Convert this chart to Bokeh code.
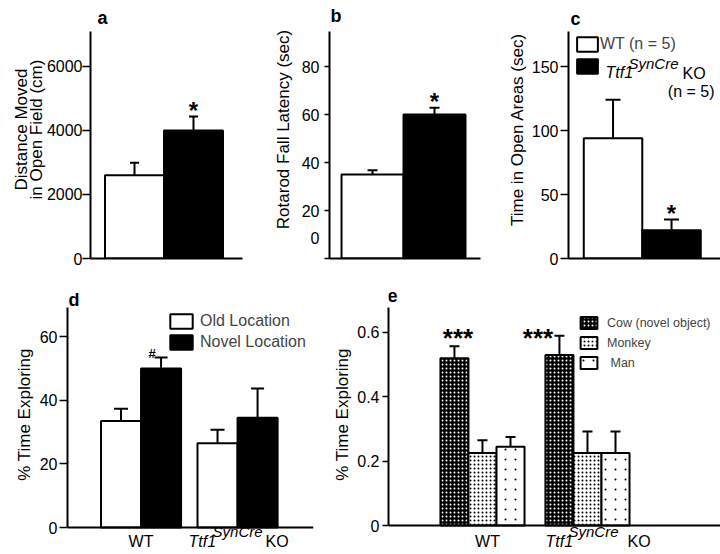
from bokeh.plotting import figure
from bokeh.models import (ColumnDataSource, Range1d, FixedTicker, Whisker, TeeHead,
                          Label, Legend, LegendItem)
from bokeh.layouts import column, row
from bokeh.embed import file_html
from bokeh.resources import INLINE
from bokeh.core.properties import value

FONT = "Liberation Sans"

# ---------------- data ----------------
genotypes = ["WT", "Ttf1 SynCre KO"]
genotype_colors = ["white", "black"]
legend_c_labels = ["WT (n = 5)", " "]

open_field_mean = [2600, 4000]
open_field_sem = [390, 440]
open_field_sig = ["", "*"]
open_field_ticks = [0, 2000, 4000, 6000]

rotarod_mean = [35, 60]
rotarod_sem = [1.8, 2.8]
rotarod_sig = ["", "*"]
rotarod_tick_marks = [0, 20, 40, 60, 80]
rotarod_label_at = [8.75, 20, 40, 60, 80]   # the "0" label sits above the 0 tick in the original
rotarod_label_text = {8.75: "0"}

open_areas_mean = [94, 22]
open_areas_sem = [30, 8.5]
open_areas_sig = ["", "*"]
open_areas_ticks = [0, 50, 100, 150]

location_groups = ["WT", "Ttf1 SynCre KO"]
old_location_mean = [33.5, 26.5]
old_location_sem = [3.8, 4.2]
novel_location_mean = [50.0, 34.5]
novel_location_sem = [3.4, 9.2]
novel_location_sig = ["#", ""]
location_ticks = [0, 20, 40, 60]

object_groups = ["WT", "Ttf1 SynCre KO"]
cow_mean = [0.52, 0.53]
cow_sem = [0.037, 0.06]
cow_sig = ["***", "***"]
monkey_mean = [0.225, 0.225]
monkey_sem = [0.040, 0.067]
man_mean = [0.245, 0.225]
man_sem = [0.030, 0.067]
object_ticks = [0, 0.2, 0.4, 0.6]


def make_panel(width, height, xr, yr, axis_top, borders, ticks, ylabel, label_standoff,
               tick_out, tick_standoff, fixed_x=False):
    bl, br, bt, bb = borders
    p = figure(width=width, height=height, x_range=Range1d(*xr), y_range=Range1d(*yr),
               output_backend="svg", toolbar_location=None, title=None,
               min_border_left=bl, min_border_right=br,
               min_border_top=bt, min_border_bottom=bb)
    p.outline_line_color = None
    p.xgrid.visible = False
    p.ygrid.visible = False
    p.background_fill_color = "white"
    p.border_fill_color = "white"
    xa = p.xaxis[0]
    xa.ticker = FixedTicker(ticks=[])
    xa.axis_line_width = 2
    xa.axis_line_color = "black"
    xa.major_tick_line_color = None
    xa.minor_tick_line_color = None
    xa.major_tick_out = 0
    xa.major_tick_in = 0
    xa.minor_tick_out = 0
    xa.major_label_standoff = 0
    xa.major_label_text_font_size = "0px"
    if fixed_x:
        xa.fixed_location = 0
    ya = p.yaxis[0]
    ya.bounds = (0, axis_top)
    ya.ticker = FixedTicker(ticks=ticks)
    ya.axis_line_width = 2
    ya.axis_line_color = "black"
    ya.major_tick_line_width = 1.5
    ya.major_tick_line_color = "black"
    ya.major_tick_in = 0
    ya.major_tick_out = tick_out
    ya.minor_tick_line_color = None
    ya.major_label_standoff = tick_standoff
    ya.major_label_text_font = FONT
    ya.major_label_text_font_size = "16px"
    ya.major_label_text_color = "black"
    ya.axis_label = ylabel
    ya.axis_label_text_font = FONT
    ya.axis_label_text_font_size = "17px"
    ya.axis_label_text_font_style = "normal"
    ya.axis_label_text_color = "black"
    ya.axis_label_standoff = label_standoff
    return p


def panel_letter(p, letter, axis_top, dx, dy):
    p.add_layout(Label(x=p.x_range.start, y=axis_top, text=letter,
                       x_offset=dx, y_offset=dy, text_font=FONT, text_font_size="18px",
                       text_font_style="bold", text_baseline="alphabetic",
                       text_color="black"))


def whisker(p, src, cap):
    p.add_layout(Whisker(source=src, base="x", lower="mean", upper="upper",
                         dimension="height", line_color="black", line_width=2,
                         lower_head=None,
                         upper_head=TeeHead(size=cap, line_width=2, line_color="black")))


def genotype_bars(p, means, sems, sig, cap):
    xs = list(range(len(means)))
    tops = [m + s for m, s in zip(means, sems)]
    src = ColumnDataSource(dict(x=xs, mean=means, upper=tops, color=genotype_colors, sig=sig))
    r = p.vbar(x="x", top="mean", bottom=0, width=1.0, source=src, fill_color="color",
               line_color="black", line_width=2)
    whisker(p, src, cap)
    p.text(x="x", y="upper", text="sig", source=src, text_font=value(FONT),
           text_font_size="24px", text_font_style="bold", text_align="center",
           text_baseline="alphabetic", y_offset=-6, text_color="black")
    return r


def ko_label(p, gx, dxs, base_dy, sup_dy):
    parts = [("Ttf1", "italic", "16px", base_dy), ("SynCre", "italic", "15px", sup_dy),
             ("KO", "normal", "16px", base_dy)]
    for (txt, style, size, dy), dx in zip(parts, dxs):
        p.add_layout(Label(x=gx, y=0, text=txt, x_offset=dx, y_offset=dy, text_font=FONT,
                           text_font_size=size, text_font_style=style,
                           text_baseline="middle", text_color="black"))


# ---------------- panel a ----------------
A_TOP = 7094
pa = make_panel(248, 274, (-0.746, 1.831), (0, 8062), A_TOP, (90, 6, 0, 16),
                open_field_ticks, "Distance Moved\nin Open Field (cm)", -2, 8, 0)
pa.yaxis[0].axis_label_text_line_height = 0.8
genotype_bars(pa, open_field_mean, open_field_sem, open_field_sig, 9)
panel_letter(pa, "a", A_TOP, 7, 13)

# ---------------- panel b ----------------
B_TOP = 94.6
pb = make_panel(242, 274, (-0.694, 1.742), (0, 107.5), B_TOP, (81, 10, 0, 16),
                rotarod_label_at, "Rotarod Fall Latency (sec)", 6, 0, 5)
yb = pb.yaxis[0]
yb.ticker = FixedTicker(ticks=rotarod_label_at, minor_ticks=rotarod_tick_marks)
yb.major_label_overrides = rotarod_label_text
yb.major_tick_line_color = None
yb.minor_tick_line_color = "black"
yb.minor_tick_line_width = 1.5
yb.minor_tick_in = 0
yb.minor_tick_out = 5
genotype_bars(pb, rotarod_mean, rotarod_sem, rotarod_sig, 10)
panel_letter(pb, "b", B_TOP, 1, 15)

# ---------------- panel c ----------------
C_TOP = 177.3
pc = make_panel(230, 274, (-0.761, 1.837), (0, 201.6), C_TOP, (78, 0, 0, 16),
                open_areas_ticks, "Time in Open Areas (sec)", 2, 8, 2)
rc = genotype_bars(pc, open_areas_mean, open_areas_sem, open_areas_sig, 15)
leg_c = Legend(items=[LegendItem(label=lab, renderers=[rc], index=i)
                      for i, lab in enumerate(legend_c_labels)],
               location=(6, 183), glyph_width=26, glyph_height=18, label_height=18,
               spacing=4, label_standoff=0, padding=0, margin=0,
               border_line_color=None, background_fill_alpha=0,
               label_text_font=FONT, label_text_font_size="16px")
pc.add_layout(leg_c)
for txt, style, size, dx, dy in [("Ttf1", "italic", "16px", 37, -41),
                                 ("SynCre", "italic", "15px", 60, -32),
                                 ("KO", "normal", "16px", 114, -42)]:
    pc.add_layout(Label(x=pc.x_range.start, y=C_TOP, text=txt, x_offset=dx,
                        y_offset=dy, text_font=FONT, text_font_size=size,
                        text_font_style=style, text_baseline="alphabetic",
                        text_color="black"))
pc.add_layout(Label(x=pc.x_range.start, y=C_TOP, text="(n = 5)", x_offset=146,
                    y_offset=-60, text_align="right", text_font=FONT, text_font_size="16px",
                    text_baseline="alphabetic", text_color="black"))
panel_letter(pc, "c", C_TOP, 2, 13)

# ---------------- panel d ----------------
D_TOP = 69.1
pd_ = make_panel(320, 280, (-0.762, 1.787), (-8.48, 79.5), D_TOP, (67, 7, 0, 0),
                 location_ticks, "% Time Exploring", 3, 8, 2, fixed_x=True)
bw_d = 0.415
gd = list(range(len(location_groups)))
old_src = ColumnDataSource(dict(x=[g - bw_d / 2 for g in gd], mean=old_location_mean,
                                upper=[m + s for m, s in zip(old_location_mean, old_location_sem)]))
nov_src = ColumnDataSource(dict(x=[g + bw_d / 2 for g in gd], mean=novel_location_mean,
                                upper=[m + s for m, s in zip(novel_location_mean, novel_location_sem)],
                                sig=novel_location_sig))
r_old = pd_.vbar(x="x", top="mean", width=bw_d, source=old_src, fill_color="white",
                 line_color="black", line_width=2)
r_nov = pd_.vbar(x="x", top="mean", width=bw_d, source=nov_src, fill_color="black",
                 line_color="black", line_width=2)
whisker(pd_, old_src, 14)
whisker(pd_, nov_src, 13)
pd_.text(x="x", y="upper", text="sig", source=nov_src, text_font=value(FONT),
         text_font_size="13px", text_font_style="bold", text_align="center",
         text_baseline="alphabetic", x_offset=-9, y_offset=-4, text_color="black")
leg_d = Legend(items=[LegendItem(label="Old Location", renderers=[r_old]),
                      LegendItem(label="Novel Location", renderers=[r_nov])],
               location=(100, 203), glyph_width=28, glyph_height=18, label_height=18,
               spacing=3, label_standoff=5, padding=0, margin=0,
               border_line_color=None, background_fill_alpha=0,
               label_text_font=FONT, label_text_font_size="16px")
pd_.add_layout(leg_d)
pd_.add_layout(Label(x=gd[0], y=0, text=location_groups[0], y_offset=-14, text_align="center",
                     text_baseline="middle", text_font=FONT, text_font_size="16px",
                     text_color="black"))
ko_label(pd_, gd[1], (-49, -25, 28), -14, -4)
panel_letter(pd_, "d", D_TOP, 1, 8)

# ---------------- panel e ----------------
E_TOP = 0.678
pe = make_panel(400, 280, (-0.895, 2.267), (-0.0901, 0.7802), E_TOP, (68, 0, 0, 0),
                object_ticks, "% Time Exploring", 2, 6, 3, fixed_x=True)
pe.yaxis[0].major_label_overrides = {0: "0"}
bw_e = 0.267
ge = list(range(len(object_groups)))


def obj_src(mean, sem, off):
    return ColumnDataSource(dict(x=[g + off for g in ge], mean=mean,
                                 upper=[m + s for m, s in zip(mean, sem)]))


cow_src = obj_src(cow_mean, cow_sem, -bw_e)
monkey_src = obj_src(monkey_mean, monkey_sem, 0.0)
man_src = obj_src(man_mean, man_sem, bw_e)

r_cow = pe.vbar(x="x", top="mean", width=bw_e, source=cow_src, fill_color="black",
                line_color="black", line_width=2, hatch_pattern="dot",
                hatch_color="white", hatch_scale=4)
r_monkey = pe.vbar(x="x", top="mean", width=bw_e, source=monkey_src, fill_color="white",
                   line_color="black", line_width=2, hatch_pattern="dot",
                   hatch_color="black", hatch_scale=4)
r_man_dots = pe.vbar(x="x", top="mean", width=bw_e, source=man_src, fill_color="white",
                     line_color=None, hatch_pattern="dot", hatch_color="black",
                     hatch_scale=10)
r_man_trim = pe.vbar(x="x", top="mean", width=bw_e, source=man_src, fill_alpha=0,
                     line_color=None, hatch_pattern="ring", hatch_color="white",
                     hatch_scale=10, hatch_weight=3)
r_man_edge = pe.vbar(x="x", top="mean", width=bw_e, source=man_src, fill_alpha=0,
                     line_color="black", line_width=2)
for s in (cow_src, monkey_src, man_src):
    whisker(pe, s, 10)

star_src = ColumnDataSource(dict(x=cow_src.data["x"], y=cow_src.data["upper"], text=cow_sig,
                                 dx=[3.5, -21.5], dy=[-8, 2]))
pe.text(x="x", y="y", text="text", source=star_src, x_offset="dx", y_offset="dy",
        text_font=value(FONT), text_font_size="26px", text_font_style="bold",
        text_align="center", text_baseline="alphabetic", text_color="black")
leg_e = Legend(items=[LegendItem(label="Cow (novel object)", renderers=[r_cow]),
                      LegendItem(label="Monkey", renderers=[r_monkey]),
                      LegendItem(label=" Man", renderers=[r_man_dots, r_man_trim, r_man_edge])],
               location=(190, 184), glyph_width=21, glyph_height=15,
               label_height=15, spacing=5, label_standoff=8, padding=0, margin=0,
               border_line_color=None, background_fill_alpha=0,
               label_text_font=FONT, label_text_font_size="12.5px")
pe.add_layout(leg_e)
pe.add_layout(Label(x=ge[0], y=0, text=object_groups[0], x_offset=5, y_offset=-16,
                    text_align="center", text_baseline="middle", text_font=FONT,
                    text_font_size="16px", text_color="black"))
ko_label(pe, ge[1], (-42, -19, 40), -16, -6)
panel_letter(pe, "e", E_TOP, -1, 12)

layout = column(row(pa, pb, pc), row(pd_, pe))
open("out.html", "w").write(file_html(layout, INLINE))
